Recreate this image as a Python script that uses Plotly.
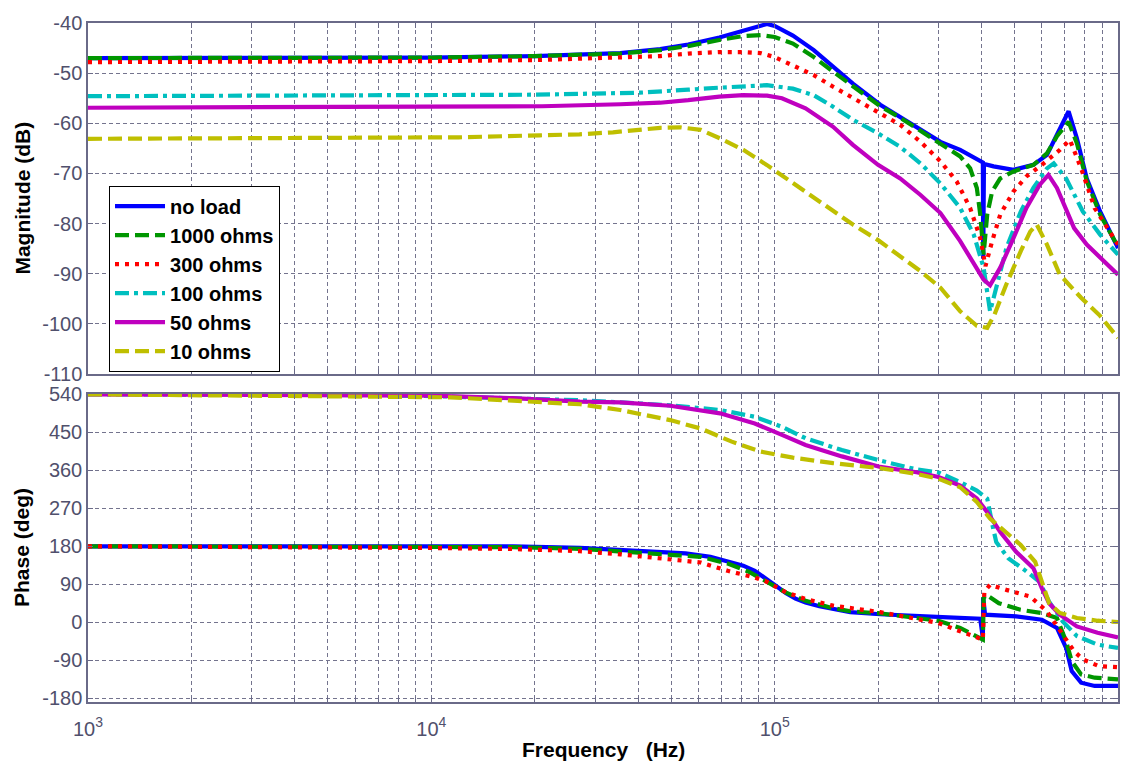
import plotly.graph_objects as go

# ---------------- Bode data: (frequency [Hz], value) ----------------
# Magnitude (dB)
mag_noload = [(1e3, -47.0), (5e3, -47.0), (1e4, -46.9), (2e4, -46.6), (3e4, -46.2), (3.55e4, -46.0),
              (4.64e4, -45.2), (5.6e4, -44.3), (6.9e4, -42.9), (8.1e4, -41.6), (9.1e4, -40.5),
              (9.5e4, -40.2), (1.0e5, -40.6), (1.13e5, -42.5), (1.3e5, -45.4), (1.48e5, -48.7),
              (1.69e5, -52.1), (2.03e5, -56.3), (2.32e5, -58.7), (2.66e5, -61.3), (3.04e5, -63.7),
              (3.47e5, -65.3), (3.88e5, -67.1), (4.04e5, -67.8), (4.05e5, -87.0), (4.07e5, -68.1),
              (4.34e5, -68.6), (4.96e5, -69.3), (5.67e5, -68.3), (6.21e5, -66.3), (6.64e5, -62.3),
              (7.18e5, -57.6), (7.59e5, -63.0), (8.11e5, -71.0), (8.87e5, -77.6), (1e6, -84.9)]
mag_1000 = [(1e3, -47.0), (1e4, -46.9), (2e4, -46.6), (3e4, -46.3), (3.55e4, -46.1), (4.64e4, -45.4),
            (5.6e4, -44.6), (6.9e4, -43.4), (8.1e4, -42.6), (9.1e4, -42.4), (1e5, -42.8),
            (1.13e5, -44.1), (1.3e5, -46.8), (1.48e5, -49.7), (1.69e5, -52.7), (2.03e5, -56.6),
            (2.32e5, -58.9), (2.66e5, -61.5), (3.04e5, -64.0), (3.47e5, -66.6), (3.71e5, -69.0),
            (3.88e5, -72.9), (3.97e5, -78.2), (4.06e5, -86.2), (4.16e5, -78.2), (4.30e5, -73.6),
            (4.54e5, -71.0), (4.96e5, -69.6), (5.67e5, -68.3), (6.21e5, -66.0), (6.64e5, -62.6),
            (7.18e5, -59.7), (7.59e5, -64.0), (8.11e5, -71.5), (8.87e5, -78.2), (1e6, -84.6)]
mag_300 = [(1e3, -47.8), (5e3, -47.8), (1e4, -47.6), (2e4, -47.4), (3e4, -47.0), (3.55e4, -46.8),
           (4.64e4, -46.6), (5.6e4, -46.1), (6.9e4, -45.8), (8.1e4, -45.8), (9.1e4, -46.0),
           (1e5, -46.8), (1.13e5, -48.4), (1.3e5, -50.4), (1.48e5, -52.7), (1.69e5, -55.0),
           (2.0e5, -57.7), (2.32e5, -60.3), (2.66e5, -63.7), (3.04e5, -67.6), (3.39e5, -71.6),
           (3.71e5, -76.9), (3.97e5, -82.9), (4.11e5, -88.5), (4.30e5, -83.5), (4.54e5, -78.2),
           (4.96e5, -73.6), (5.41e5, -70.6), (6.0e5, -68.3), (6.77e5, -65.3), (7.24e5, -63.3),
           (7.81e5, -69.0), (8.55e5, -76.9), (1e6, -84.2)]
mag_100 = [(1e3, -54.6), (1e4, -54.5), (2e4, -54.3), (4.05e4, -53.9), (4.64e4, -53.7), (5.6e4, -53.3),
           (6.9e4, -52.9), (8.1e4, -52.6), (9.5e4, -52.4), (1.13e5, -53.1), (1.3e5, -54.4),
           (1.48e5, -56.7), (1.69e5, -59.3), (2.0e5, -62.0), (2.32e5, -64.7), (2.66e5, -68.0),
           (3.04e5, -72.0), (3.47e5, -76.9), (3.80e5, -82.2), (4.06e5, -88.8), (4.24e5, -97.5),
           (4.37e5, -94.1), (4.73e5, -84.9), (5.21e5, -77.6), (5.67e5, -72.9), (6.21e5, -69.0),
           (6.50e5, -68.0), (7.06e5, -71.0), (7.90e5, -77.6), (8.87e5, -82.2), (1e6, -86.2)]
mag_50 = [(1e3, -56.9), (1e4, -56.8), (2.1e4, -56.6), (3.55e4, -56.2), (4.64e4, -55.9), (5.6e4, -55.4),
          (6.9e4, -54.7), (8.1e4, -54.4), (9.5e4, -54.5), (1.05e5, -55.0), (1.23e5, -57.0),
          (1.48e5, -60.7), (1.69e5, -64.3), (2.0e5, -68.3), (2.32e5, -71.0), (2.66e5, -74.3),
          (3.04e5, -77.9), (3.47e5, -83.5), (3.80e5, -87.8), (4.06e5, -91.2), (4.24e5, -92.3),
          (4.54e5, -88.8), (4.96e5, -82.9), (5.41e5, -76.9), (5.91e5, -72.3), (6.27e5, -70.3),
          (6.64e5, -72.9), (7.45e5, -80.9), (8.11e5, -84.2), (1e6, -90.2)]
mag_10 = [(1e3, -63.1), (5e3, -63.0), (1.2e4, -62.8), (2.07e4, -62.4), (2.7e4, -62.2), (3.38e4, -61.8),
          (4.05e4, -61.2), (4.64e4, -60.9), (5.3e4, -60.8), (6.09e4, -61.3), (6.93e4, -63.0),
          (8.1e4, -65.3), (9.48e4, -68.3), (1.13e5, -71.9), (1.36e5, -75.9), (1.69e5, -80.2),
          (2.0e5, -83.3), (2.32e5, -86.5), (2.66e5, -89.5), (3.04e5, -92.8), (3.47e5, -97.5),
          (3.88e5, -100.4), (4.16e5, -100.8), (4.37e5, -98.1), (4.73e5, -92.1), (5.21e5, -85.5),
          (5.55e5, -81.6), (5.80e5, -80.2), (6.21e5, -84.2), (6.77e5, -90.2), (7.81e5, -94.8),
          (8.87e5, -98.4), (1e6, -102.8)]

# Phase (deg)
ph_noload = [(1e3, 180), (1e4, 180), (1.73e4, 180), (2.71e4, 176), (3.55e4, 171), (4.5e4, 167),
             (5.5e4, 163), (6.5e4, 155), (7.3e4, 145), (8.1e4, 134), (8.75e4, 122), (9.48e4, 101),
             (1.0e5, 88), (1.08e5, 69), (1.15e5, 56), (1.23e5, 47), (1.35e5, 38), (1.48e5, 31),
             (1.66e5, 24), (2.03e5, 19), (2.59e5, 14), (3.2e5, 11.5), (3.97e5, 8.5),
             (4.04e5, -38), (4.05e5, 58), (4.1e5, 18), (5.05e5, 14), (6.0e5, 6), (6.64e5, -13.6),
             (7.06e5, -60.7), (7.33e5, -115.7), (7.81e5, -143.2), (8.55e5, -151), (1e6, -151)]
ph_1000 = [(1e3, 180), (1e4, 180), (1.73e4, 178), (2.71e4, 174), (3.55e4, 168), (4.96e4, 162),
           (6.09e4, 155), (7.3e4, 139), (8.4e4, 120), (9.48e4, 96), (1.08e5, 70), (1.23e5, 51),
           (1.45e5, 35), (1.66e5, 26), (2.03e5, 21), (2.59e5, 10),
           (3.0e5, 3.6), (3.47e5, -13.6), (3.88e5, -33.3), (4.04e5, -41), (4.06e5, 57), (4.14e5, 65),
           (4.5e5, 45), (5.2e5, 29.6), (6.0e5, 21.7), (6.64e5, 10), (7.06e5, -45), (7.33e5, -92),
           (7.81e5, -123.6), (8.55e5, -131.4), (1e6, -135.4)]
ph_300 = [(1e3, 180), (5e3, 178), (1e4, 176), (1.73e4, 173.5), (2.71e4, 168.5), (3.55e4, 161),
          (4.96e4, 149.4), (6.09e4, 141.6), (7.3e4, 121.8), (8.75e4, 106), (9.48e4, 96),
          (1.08e5, 70.7), (1.23e5, 55), (1.48e5, 39.3), (2.03e5, 24), (2.59e5, 8.4), (3.0e5, -1.8),
          (3.47e5, -21.5), (3.88e5, -37.2), (4.04e5, -41), (4.08e5, 72.7), (4.24e5, 88.5),
          (4.73e5, 76.7), (5.55e5, 61), (6.21e5, 25.6), (6.9e5, -29.3), (7.45e5, -68.6),
          (7.9e5, -88.2), (8.8e5, -104), (1e6, -106.3)]
ph_100 = [(1e3, 540), (5e3, 539), (1e4, 536), (1.73e4, 531), (2.71e4, 526), (3.55e4, 521),
          (4.96e4, 514), (6.93e4, 503), (8.75e4, 487), (1.05e5, 463), (1.23e5, 436), (1.57e5, 408),
          (2.03e5, 383), (2.59e5, 362), (3.0e5, 355), (3.47e5, 332), (3.88e5, 312), (4.16e5, 293),
          (4.24e5, 253), (4.33e5, 222), (4.42e5, 190), (4.8e5, 151), (5.34e5, 124), (5.91e5, 96),
          (6.3e5, 49), (6.9e5, 2), (7.6e5, -33), (8.72e5, -53), (1e6, -61)]
ph_50 = [(1e3, 540), (5e3, 539.5), (1e4, 537), (1.73e4, 531), (2.71e4, 523), (3.55e4, 521),
         (4.96e4, 513), (6.93e4, 495), (8.75e4, 471), (1.05e5, 444), (1.23e5, 420), (1.57e5, 393),
         (2.03e5, 368), (2.59e5, 355.5), (3.0e5, 344), (3.47e5, 324), (3.88e5, 293), (4.16e5, 261),
         (4.54e5, 214), (5.05e5, 167), (5.67e5, 128), (6.0e5, 81), (6.3e5, 45), (6.77e5, 18),
         (7.59e5, -10), (8.72e5, -25), (1e6, -36)]
ph_10 = [(1e3, 540), (2.4e3, 538), (5.5e3, 535), (1.14e4, 533), (1.73e4, 525), (2.71e4, 516.5),
         (3.55e4, 503), (4.96e4, 479), (6.09e4, 459), (7.5e4, 428), (9.1e4, 404.5), (1.13e5, 390),
         (1.48e5, 377), (2.03e5, 365), (2.59e5, 351.5), (3.0e5, 340), (3.47e5, 320), (3.88e5, 285),
         (4.24e5, 245.5), (4.73e5, 214), (5.21e5, 183), (5.74e5, 143), (6.0e5, 96), (6.3e5, 45),
         (6.77e5, 22), (7.59e5, 10), (8.72e5, 3.6), (1e6, 0.5)]

# legend name, magnitude, phase, colour, dash pattern
series = [
    ("no load", mag_noload, ph_noload, "#0000ff", "solid"),
    ("1000 ohms", mag_1000, ph_1000, "#009600", "14px,6px"),
    ("300 ohms", mag_300, ph_300, "#ff0000", "4px,6px"),
    ("100 ohms", mag_100, ph_100, "#00bfbf", "14px,5px,4px,5px"),
    ("50 ohms", mag_50, ph_50, "#bf00bf", "solid"),
    ("10 ohms", mag_10, ph_10, "#bfbf00", "14px,6px"),
]

# x tick positions: every 1..9 x decade, labels only on decades
decades = [3, 4, 5, 6]
x_tickvals = [k * 10 ** d for d in decades[:-1] for k in range(1, 10)] + [10 ** decades[-1]]
x_ticktext = [f"10<sup>{d}</sup>" if k == 1 else "" for d in decades[:-1] for k in range(1, 10)] + [f"10<sup>{decades[-1]}</sup>"]

mag_ticks = [-110, -100, -90, -80, -70, -60, -50, -40]
phase_ticks = [-180, -90, 0, 90, 180, 270, 360, 450, 540]

FONT = "Liberation Sans, Arial, sans-serif"
FRAME = "#6a6a88"
GRID = "#74748e"
TICKFONT = dict(family=FONT, size=20, color="#50506c")
TITLEFONT = dict(family=FONT, size=21, color="black", weight="bold")

fig = go.Figure()
for name, mag, ph, color, dash in series:
    fig.add_trace(go.Scatter(
        x=[p[0] for p in mag], y=[p[1] for p in mag], mode="lines", name=name,
        line=dict(color=color, width=4.2, dash=dash), xaxis="x", yaxis="y"))
for name, mag, ph, color, dash in series:
    fig.add_trace(go.Scatter(
        x=[p[0] for p in ph], y=[p[1] for p in ph], mode="lines", name=name, showlegend=False,
        line=dict(color=color, width=4.2, dash=dash), xaxis="x2", yaxis="y2"))

common_x = dict(type="log", range=[3, 6], tickvals=x_tickvals, ticktext=x_ticktext,
                showgrid=True, gridcolor=GRID, gridwidth=1, griddash="4px,3px",
                ticks="inside", ticklen=5, tickcolor=FRAME, showline=True, linecolor=FRAME,
                linewidth=1.5, mirror="ticks", zeroline=False, tickfont=TICKFONT)
common_y = dict(showgrid=True, gridcolor=GRID, gridwidth=1, griddash="4px,3px",
                ticks="inside", ticklen=5, tickcolor=FRAME, showline=True, linecolor=FRAME,
                linewidth=1.5, mirror="ticks", zeroline=False, tickfont=TICKFONT)

fig.update_layout(
    width=1133, height=767,
    margin=dict(l=88, r=15, t=21, b=65),
    paper_bgcolor="white", plot_bgcolor="white",
    xaxis=dict(domain=[0, 1], anchor="y", showticklabels=False, **common_x),
    xaxis2=dict(domain=[0, 1], anchor="y2", showticklabels=True, ticklabelstandoff=8, **common_x),
    yaxis=dict(domain=[0.4831, 1], anchor="x", range=[-110, -40], tickvals=mag_ticks,
               ticktext=[str(v) for v in mag_ticks], **common_y),
    yaxis2=dict(domain=[0, 0.4537], anchor="x2", range=[-189, 541], tickvals=phase_ticks,
                ticktext=[str(v) for v in phase_ticks], **common_y),
    legend=dict(x=0.0204, y=0.7606, xanchor="left", yanchor="top", bgcolor="white",
                bordercolor="black", borderwidth=1, itemwidth=50, tracegroupgap=0,
                font=dict(family=FONT, size=20, color="black", weight="bold")),
    showlegend=True,
    annotations=[
        dict(text="Magnitude (dB)", xref="paper", yref="paper", x=-0.064, y=0.7415,
             xanchor="center", yanchor="middle", textangle=-90, showarrow=False, font=TITLEFONT),
        dict(text="Phase (deg)", xref="paper", yref="paper", x=-0.064, y=0.2269,
             xanchor="center", yanchor="middle", textangle=-90, showarrow=False, font=TITLEFONT),
        dict(text="Frequency&nbsp;&nbsp; (Hz)", xref="paper", yref="paper", x=0.5, y=-0.0705,
             xanchor="center", yanchor="middle", showarrow=False, font=TITLEFONT),
    ],
)

fig.write_html("out.html")
